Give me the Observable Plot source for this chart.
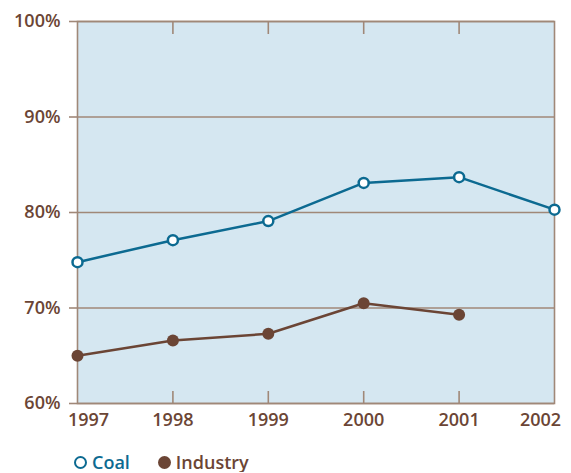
<!DOCTYPE html>
<html><head><meta charset="utf-8">
<script src="https://cdn.jsdelivr.net/npm/d3@7"></script>
<script src="https://cdn.jsdelivr.net/npm/@observablehq/plot@0.6"></script>
<style>
body{margin:0;background:#fff;font-family:"Open Sans",sans-serif;overflow:hidden;}
#chart svg{display:block;}
#legend{margin-top:12px;height:20px;line-height:20px;padding-left:74px;font-size:18px;font-weight:600;display:flex;align-items:center;}
#legend span{display:inline-flex;align-items:center;}
.dot{display:inline-block;box-sizing:border-box;width:13px;height:13px;border-radius:50%;margin-right:5px;}
</style></head><body><div id="chart"></div>
<div id="legend">
 <span style="color:#0c6a91"><i class="dot" style="border:2.5px solid #0c6a91;background:#fff"></i>Coal</span>
 <span style="color:#6b4535;margin-left:28px"><i class="dot" style="background:#6b4535"></i>Industry</span>
</div>
<script>
const years = [1997, 1998, 1999, 2000, 2001, 2002];
const coal = [74.8, 77.1, 79.1, 83.1, 83.7, 80.3];
const industryYears = [1997, 1998, 1999, 2000, 2001];
const industry = [65.0, 66.6, 67.3, 70.5, 69.3];
const yTicks = [60, 70, 80, 90, 100];
const innerTickYears = [1998, 1999, 2000, 2001];

const coalData = years.map((y, i) => ({year: y, value: coal[i]}));
const indData = industryYears.map((y, i) => ({year: y, value: industry[i]}));

const brown = "#6b4535", blue = "#0c6a91", grid = "#a08878", bg = "#d5e7f1";
const W = 571, H = 440, mt = 21, mb = 37, ml = 77, mr = 17;
const innerH = H - mt - mb;
const fs = 18;

const chart = Plot.plot({
  width: W, height: H,
  marginTop: mt, marginBottom: mb, marginLeft: ml, marginRight: mr,
  style: {fontFamily: "Open Sans, sans-serif", fontSize: fs + "px", fontWeight: 600, color: brown, background: "#fff"},
  x: {domain: [1997, 2002], axis: null},
  y: {domain: [60, 100], axis: null},
  marks: [
    Plot.frame({fill: bg}),
    Plot.ruleY(yTicks, {y: d => d, stroke: grid, strokeWidth: 1.6}),
    Plot.axisY(yTicks, {tickSize: 8, tickPadding: 9, stroke: grid, strokeWidth: 1.6, tickFormat: d => d + "%", label: null, fill: brown, fontSize: fs, fontWeight: 600}),
    Plot.ruleX(innerTickYears, {x: d => d, insetBottom: innerH - 13, stroke: grid, strokeWidth: 1.6}),
    Plot.ruleX(innerTickYears, {x: d => d, insetTop: innerH - 12, stroke: grid, strokeWidth: 1.6}),
    Plot.frame({stroke: grid, strokeWidth: 1.6}),
    Plot.text(years.slice(1, 5), {x: d => d, y: 60, dy: 17, text: d => String(d), fill: brown, fontSize: fs, fontWeight: 600}),
    Plot.text([years[0]], {x: d => d, y: 60, dy: 17, dx: 11, text: d => String(d), fill: brown, fontSize: fs, fontWeight: 600}),
    Plot.text([years[5]], {x: d => d, y: 60, dy: 17, dx: -14, text: d => String(d), fill: brown, fontSize: fs, fontWeight: 600}),
    Plot.line(indData, {x: "year", y: "value", stroke: brown, strokeWidth: 2.5}),
    Plot.dot(indData, {x: "year", y: "value", r: 6, fill: brown}),
    Plot.line(coalData, {x: "year", y: "value", stroke: blue, strokeWidth: 2.5}),
    Plot.dot(coalData, {x: "year", y: "value", r: 5, fill: "#fff", stroke: blue, strokeWidth: 2.5})
  ]
});
document.getElementById("chart").appendChild(chart);
</script></body></html>
